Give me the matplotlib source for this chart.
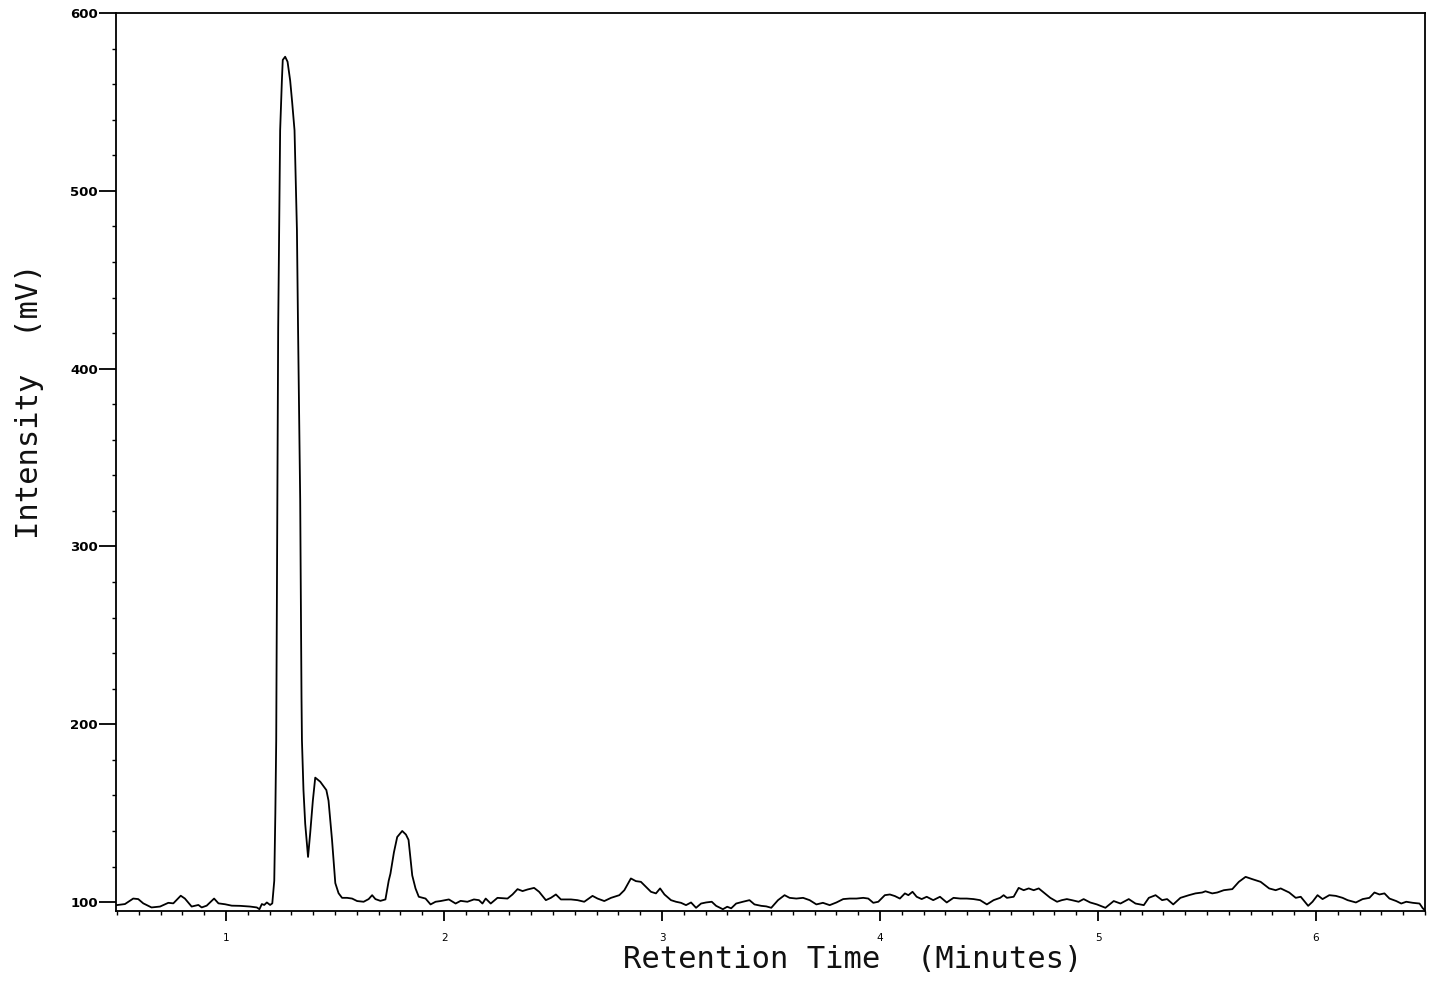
import matplotlib
matplotlib.use("Agg")
import matplotlib.pyplot as plt
from matplotlib.ticker import MultipleLocator

# Retention time (minutes) and intensity (mV)
time_min = [
    0.497, 0.536, 0.574, 0.597, 0.620, 0.658, 0.697, 0.735, 0.758, 0.792,
    0.811, 0.842, 0.873, 0.888, 0.911, 0.945, 0.965, 0.995, 1.026, 1.064,
    1.110, 1.141, 1.153, 1.164, 1.175, 1.187, 1.202, 1.212, 1.216, 1.221,
    1.226, 1.230, 1.234, 1.239, 1.242, 1.245, 1.248, 1.256, 1.260, 1.271,
    1.282, 1.294, 1.303, 1.314, 1.325, 1.330, 1.340, 1.346, 1.348, 1.355,
    1.363, 1.376, 1.386, 1.398, 1.409, 1.432, 1.460, 1.470, 1.486, 1.501,
    1.516, 1.532, 1.555, 1.578, 1.601, 1.631, 1.654, 1.670, 1.685, 1.708,
    1.731, 1.746, 1.754, 1.770, 1.785, 1.808, 1.825, 1.837, 1.854, 1.869,
    1.884, 1.915, 1.938, 1.961, 1.984, 2.022, 2.053, 2.076, 2.107, 2.137,
    2.160, 2.176, 2.191, 2.214, 2.245, 2.291, 2.314, 2.337, 2.360, 2.383,
    2.413, 2.436, 2.467, 2.490, 2.513, 2.536, 2.582, 2.612, 2.643, 2.681,
    2.704, 2.735, 2.766, 2.804, 2.827, 2.857, 2.880, 2.903, 2.926, 2.949,
    2.972, 2.991, 3.011, 3.041, 3.064, 3.087, 3.110, 3.133, 3.156, 3.179,
    3.202, 3.228, 3.248, 3.279, 3.299, 3.317, 3.340, 3.371, 3.401, 3.424,
    3.455, 3.478, 3.501, 3.532, 3.562, 3.585, 3.616, 3.647, 3.677, 3.708,
    3.738, 3.769, 3.800, 3.831, 3.861, 3.892, 3.923, 3.946, 3.969, 3.992,
    4.022, 4.045, 4.068, 4.091, 4.114, 4.130, 4.149, 4.168, 4.191, 4.214,
    4.244, 4.275, 4.306, 4.337, 4.368, 4.398, 4.429, 4.459, 4.490, 4.521,
    4.551, 4.567, 4.582, 4.613, 4.636, 4.659, 4.682, 4.705, 4.728, 4.751,
    4.781, 4.812, 4.834, 4.857, 4.880, 4.911, 4.934, 4.964, 4.995, 5.034,
    5.072, 5.103, 5.141, 5.172, 5.210, 5.233, 5.264, 5.294, 5.317, 5.345,
    5.378, 5.417, 5.447, 5.478, 5.493, 5.524, 5.547, 5.577, 5.616, 5.646,
    5.677, 5.708, 5.746, 5.785, 5.815, 5.838, 5.877, 5.907, 5.930, 5.964,
    5.984, 6.007, 6.030, 6.061, 6.091, 6.122, 6.145, 6.183, 6.214, 6.245,
    6.268, 6.291, 6.314, 6.337, 6.368, 6.391, 6.414, 6.444, 6.475, 6.490,
    6.500,
]
intensity_mv = [
    98.3, 98.9, 102.0, 101.7, 99.3, 97.0, 97.5, 99.6, 99.3, 103.6,
    102.0, 97.5, 98.4, 97.0, 98.0, 102.0, 99.3, 98.8, 98.0, 97.9,
    97.5, 97.0, 96.0, 98.9, 98.4, 99.8, 98.4, 99.3, 105.0, 112.0,
    150.0, 191.0, 300.0, 423.0, 459.0, 497.0, 534.0, 562.0, 573.6, 575.4,
    572.6, 562.0, 550.0, 534.0, 478.0, 424.0, 326.0, 215.0, 191.0, 163.0,
    144.0, 125.4, 139.0, 157.0, 170.0, 167.7, 163.0, 157.0, 135.0, 110.7,
    105.0, 102.4, 102.4, 102.0, 100.6, 100.2, 101.7, 103.9, 101.7, 100.7,
    101.5, 112.0, 116.0, 128.0, 136.6, 140.0, 138.0, 135.0, 115.0, 107.7,
    103.0, 102.0, 98.7, 100.2, 100.6, 101.5, 99.2, 100.7, 100.2, 101.5,
    101.1, 99.2, 102.0, 99.2, 102.4, 102.0, 104.3, 107.3, 106.2, 107.1,
    108.0, 105.8, 101.1, 102.4, 104.3, 101.5, 101.5, 101.1, 100.2, 103.5,
    102.0, 100.6, 102.4, 103.9, 106.7, 113.3, 111.8, 111.4, 108.6, 105.8,
    104.9, 107.7, 104.3, 101.1, 100.2, 99.6, 98.3, 99.8, 96.8, 99.2,
    99.8, 100.2, 97.9, 96.0, 97.4, 96.5, 99.2, 100.2, 101.1, 98.7,
    97.9, 97.6, 96.8, 101.1, 103.9, 102.4, 102.0, 102.4, 101.1, 98.7,
    99.6, 98.3, 99.8, 101.7, 102.0, 102.0, 102.4, 102.0, 99.6, 100.2,
    103.9, 104.3, 103.4, 102.0, 104.9, 103.9, 105.8, 103.0, 101.7, 103.0,
    101.1, 103.0, 99.8, 102.4, 102.0, 102.0, 101.7, 101.1, 98.7, 101.1,
    102.4, 103.9, 102.4, 103.0, 108.0, 106.7, 107.7, 106.7, 107.7, 105.4,
    102.4, 100.2, 101.1, 101.7, 101.1, 100.2, 101.7, 99.8, 98.7, 96.8,
    100.6, 99.2, 101.7, 99.2, 98.3, 102.4, 103.9, 101.1, 101.7, 98.7,
    102.4, 103.9, 104.9, 105.4, 106.1, 104.9, 105.4, 106.7, 107.3, 111.4,
    114.2, 112.9, 111.4, 107.7, 106.7, 107.7, 105.4, 102.4, 103.0, 97.9,
    100.2, 103.9, 101.7, 103.9, 103.5, 102.4, 101.1, 99.8, 101.7, 102.4,
    105.4, 104.3, 104.9, 102.0, 100.6, 99.2, 100.2, 99.6, 99.2, 96.5,
    95.5,
]

x_ticks = [1, 2, 3, 4, 5, 6]
y_ticks = [100, 200, 300, 400, 500, 600]
x_label = "Retention Time  (Minutes)"
y_label = "Intensity  (mV)"

W, H = 1435, 981
fig = plt.figure(figsize=(W / 100, H / 100), dpi=100)
fig.patch.set_facecolor("white")
ax = fig.add_axes([116 / W, 1 - 911 / H, (1425 - 116) / W, (911 - 13) / H])

ax.plot(time_min, intensity_mv, color="black", lw=1.3, solid_joinstyle="round")

ax.set_xlim(0.495, 6.5)
ax.set_ylim(95, 600)

ax.set_xticks(x_ticks)
ax.set_yticks(y_ticks)
ax.xaxis.set_minor_locator(MultipleLocator(0.1))
ax.yaxis.set_minor_locator(MultipleLocator(20))

ax.tick_params(axis="x", which="major", direction="out", length=7, width=1.3,
               pad=9, labelsize=7.5)
ax.tick_params(axis="x", which="minor", direction="out", length=3, width=1.0)
ax.tick_params(axis="y", which="major", direction="out", length=12, width=1.3,
               pad=1, labelsize=9.5)
ax.tick_params(axis="y", which="minor", direction="out", length=3, width=1.0)
for lab in ax.get_yticklabels():
    lab.set_fontweight("bold")

for sp in ax.spines.values():
    sp.set_linewidth(1.3)
    sp.set_color("black")

mono = ["DejaVu Sans Mono"]
fig.text(853 / W, 1 - 968 / H, x_label, ha="center", va="baseline",
         fontsize=22, family=mono, color="#111111")
fig.text(30 / W, 1 - 401 / H, y_label, ha="center", va="center", rotation=90,
         fontsize=22, family=mono, color="#111111")

fig.savefig("out.png", dpi=100, facecolor="white")
